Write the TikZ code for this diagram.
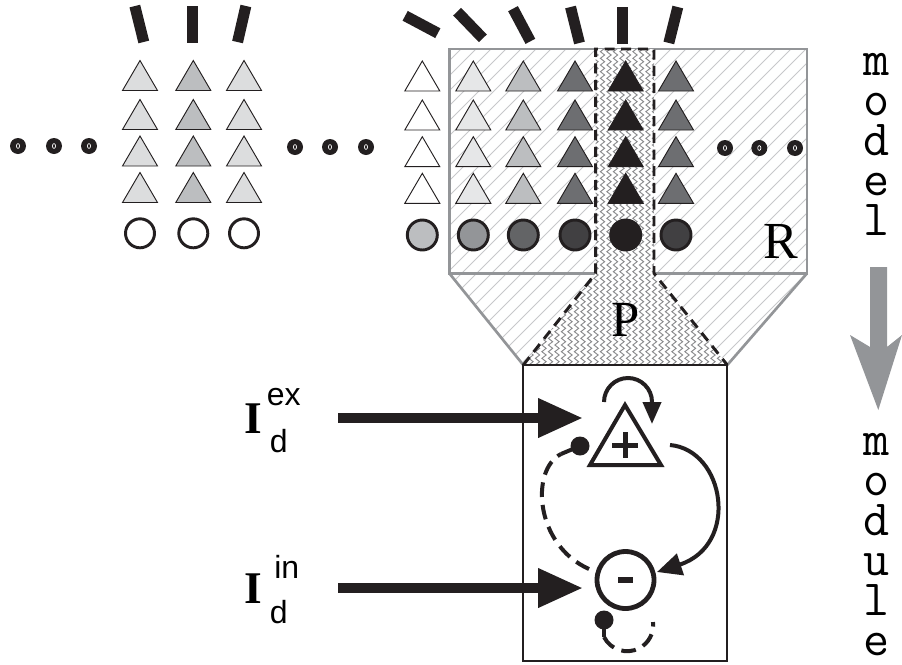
\documentclass[tikz,border=0pt]{standalone}
\usepackage{fontspec}
\setmainfont{Liberation Serif}
\newfontfamily\sansf{Liberation Sans}
\usetikzlibrary{arrows.meta,decorations.pathmorphing}
\definecolor{ink}{HTML}{231F20}
\definecolor{gA}{HTML}{E6E7E8}
\definecolor{gL}{HTML}{DCDDDE}
\definecolor{gB}{HTML}{BCBEC0}
\definecolor{gC}{HTML}{939598}
\definecolor{gD}{HTML}{6D6E71}
\definecolor{gE}{HTML}{636466}
\definecolor{gF}{HTML}{414042}
\definecolor{rgray}{HTML}{939598}
\definecolor{hgray}{HTML}{C7C8CA}
\definecolor{zgray}{HTML}{8A8B8D}
\begin{document}
\begin{tikzpicture}[x=0.75pt,y=-0.75pt,
  bar/.style={rectangle,fill=ink,minimum width=8.25pt,minimum height=27.75pt,inner sep=0pt},
  tri/.style={draw=ink,line width=0.7pt,line join=miter},
  cell/.style={draw=ink,line width=2.2pt},
  hatchline/.style={hgray,line width=0.6pt},
  zig/.style={zgray,line width=0.7pt,decorate,decoration={zigzag,segment length=5pt,amplitude=1.6pt}},
  rline/.style={rgray,line width=2pt},
  pdash/.style={ink,line width=2.2pt,dash pattern=on 7.5pt off 5pt},
  modbox/.style={draw=ink,line width=1.6pt},
  thick3/.style={ink,line width=3pt},
  dashline/.style={ink,line width=3pt,dash pattern=on 11pt off 6pt},
  input/.style={ink,line width=7.5pt,-{Triangle[length=33.75pt,width=27.75pt]}},
  inhib/.style={circle,draw=ink,line width=3.6pt,minimum size=42.75pt,inner sep=0pt,fill=white},
  txt/.style={inner sep=0pt,anchor=base},
  mono/.style={inner sep=0pt,anchor=base,align=center,font=\ttfamily\fontsize{38}{30}\selectfont}]
\useasboundingbox (0,0) rectangle (902,664);

% hatched region R + trapezoid
\begin{scope}
\clip (449.3,49) -- (807,49) -- (807,273.3) -- (727.3,365) -- (523.3,365) -- (449.3,273.3) -- cycle;
\foreach \i in {0,...,48} \draw[hatchline] (80+\i*15,400) -- ++(400,-400);
\end{scope}
\draw[rline] (449.3,49) rectangle (807,273.3);
\draw[rline] (449.3,273.3) -- (523.3,365) (807,273.3) -- (727.3,365);

% P region
\path[fill=white] (595.7,49) -- (595.7,273.3) -- (523.3,365) -- (727.3,365) -- (654,273.3) -- (654,49) -- cycle;
\begin{scope}
\clip (595.7,49) -- (595.7,273.3) -- (523.3,365) -- (727.3,365) -- (654,273.3) -- (654,49) -- cycle;
\foreach \x in {518,524.5,...,734} \draw[zig] (\x,40) -- (\x,372);
\end{scope}
\draw[pdash] (523.3,365) -- (595.7,273.3) -- (595.7,49) -- (654,49) -- (654,273.3) -- (727.3,365);

% left group triangles and cells
\foreach \x/\c in {140/gL,193.3/gB,244/gL}{
  \foreach \a in {60.5,99.5,136,172.5}
    \draw[tri,fill=\c] (\x-17.5,\a+30) -- (\x,\a) -- (\x+17.5,\a+30) -- cycle;
  \draw[cell,fill=white] (\x,233.3) circle (14.5);
}
% right group triangles and cells
\foreach \x/\c/\d in {422.3/white/gB,473.3/gA/gC,523.3/gB/gE,575/gD/gF,625.7/ink/ink,676/gD/gF}{
  \foreach \a in {61,100,136.7,173.3}
    \draw[tri,fill=\c] (\x-17.5,\a+30) -- (\x,\a) -- (\x+17.5,\a+30) -- cycle;
  \draw[cell,fill=\d] (\x,235) circle (15);
}

% orientation bars
\node[bar,rotate=14] (l1) at (139.3,24) {};
\node[bar] (l2) at (192.7,24) {};
\node[bar,rotate=-13] (l3) at (241.7,24) {};
\node[bar,rotate=62] (r1) at (421.5,24.5) {};
\node[bar,rotate=44] (r2) at (470,25) {};
\node[bar,rotate=28] (r3) at (521.7,25) {};
\node[bar,rotate=14] (r4) at (575,25) {};
\node[bar] (r5) at (622.3,25) {};
\node[bar,rotate=-14] (r6) at (673.3,25) {};

% ellipsis dots
\foreach \x/\y in {18/146,54/146,89/146,295/147,330/147,366/147,725/148,759.3/148,795/148}{
  \fill[ink] (\x,\y) circle (8);
  \draw[white,line width=0.5pt] (\x,\y) ellipse (1.6 and 2.4);
}

% labels R and P
\node[txt,font=\fontsize{39}{39}\selectfont] (Rlab) at (781,258) {R};
\node[txt,font=\fontsize{38}{38}\selectfont] (Plab) at (626,336.5) {P};

% module box
\draw[modbox] (523.3,365) rectangle (727.3,661);

% excitatory unit
\draw[thick3,fill=white,line join=miter] (590,465) -- (625,405) -- (661,465) -- cycle;
\coordinate (exc) at (625,445);
\draw[ink,line width=3.75pt] (612,445) -- (638,445) (625,432) -- (625,458);
% self excitation
\draw[thick3,-{Triangle[length=16.5pt,width=13.5pt]}] (604,402) arc[start angle=180,end angle=360,radius=24] -- (652,424);

% inhibitory unit
\node[inhib] (inh) at (625.5,580) {};
\fill[ink] (618,576.5) rectangle (633,583);

% excitatory -> inhibitory
\coordinate (e1) at (670,445);
\coordinate (i1) at (657,572);
\draw[thick3,-{Triangle[length=18.5pt,width=16.5pt]}] (e1) .. controls (725,450) and (740,545) .. (i1);

% inhibitory -> excitatory (dashed, ball end)
\coordinate (i2) at (589,569);
\coordinate (e2) at (561,454);
\coordinate (ball1) at (580,446);
\draw[dashline] (i2) .. controls (535,545) and (530,470) .. (e2);
\draw[thick3] (e2) -- (ball1);
\fill[ink] (ball1) circle (9.5);

% inhibitory self loop
\coordinate (ball2) at (604,620);
\coordinate (s2) at (604,637);
\fill[ink] (ball2) circle (9.5);
\draw[thick3] (ball2) -- (s2);
\draw[dashline] (s2) arc[start angle=153,end angle=-7,radius=26];

% inputs
\coordinate (exsrc) at (338,418);
\coordinate (exdst) at (583,418);
\coordinate (insrc) at (338,588);
\coordinate (indst) at (583,588);
\draw[input] (exsrc) -- (exdst);
\draw[input] (insrc) -- (indst);

\node[txt,font=\bfseries\fontsize{34}{34}\selectfont] (Iex) at (253.3,433) {I};
\node[txt,anchor=base west,font=\sansf\fontsize{24}{24}\selectfont] (ex) at (266.5,405) {ex};
\node[txt,anchor=base west,font=\sansf\fontsize{24}{24}\selectfont] (dex) at (269.5,452) {d};
\node[txt,font=\bfseries\fontsize{34}{34}\selectfont] (Iin) at (253.3,603) {I};
\node[txt,anchor=base west,font=\sansf\fontsize{24}{24}\selectfont] (in) at (274,578) {in};
\node[txt,anchor=base west,font=\sansf\fontsize{24}{24}\selectfont] (din) at (269.5,623) {d};

% right side: model -> module
\node[mono] (model) at (876.7,235) {m\\o\\d\\e\\l};
\node[mono] (module) at (876.7,655) {m\\o\\d\\u\\l\\e};
\fill[gC] (870,267) -- (887,267) -- (887,347) -- (902,335) -- (878.3,410) -- (850,335) -- (870,347) -- cycle;
\end{tikzpicture}
\end{document}
